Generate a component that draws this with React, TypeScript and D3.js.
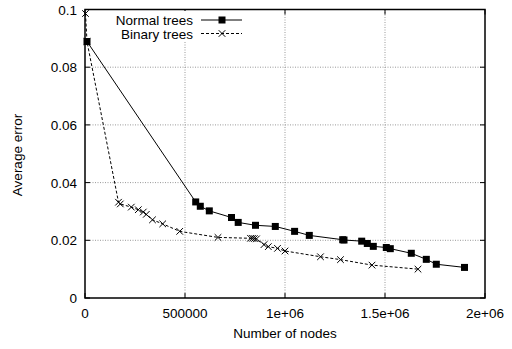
import React from "react";
import * as d3 from "d3";

const normalX = [10000, 553500, 576500, 621500, 732500, 766000, 852500, 951500, 1048000, 1121500, 1288500, 1295000, 1383500, 1411500, 1441500, 1506500, 1526500, 1631500, 1706500, 1756500, 1897500];
const normalY = [0.0889, 0.0333, 0.0318, 0.0302, 0.0279, 0.0262, 0.0252, 0.0248, 0.0231, 0.0217, 0.0202, 0.0201, 0.0197, 0.0189, 0.0179, 0.0175, 0.0171, 0.0155, 0.0134, 0.0117, 0.0106];

const binaryX = [2500, 10000, 167500, 176500, 231500, 266500, 291500, 306500, 337500, 388500, 473500, 665000, 827500, 837500, 846500, 857500, 895000, 916500, 962500, 1000000, 1177500, 1277500, 1435000, 1665000];
const binaryY = [0.0986, 0.0889, 0.0332, 0.0326, 0.0315, 0.0306, 0.0298, 0.029, 0.0271, 0.0257, 0.0231, 0.021, 0.0207, 0.0207, 0.0206, 0.0205, 0.0185, 0.0178, 0.0172, 0.0163, 0.0143, 0.0133, 0.0114, 0.01];

const xTicks = [0, 500000, 1000000, 1500000, 2000000];
const xTickLabels = ["0", "500000", "1e+06", "1.5e+06", "2e+06"];
const yTicks = [0, 0.02, 0.04, 0.06, 0.08, 0.1];
const yTickLabels = ["0", "0.02", "0.04", "0.06", "0.08", "0.1"];

const seriesNames = ["Normal trees", "Binary trees"];

const W = 512, H = 349;
const left = 85, right = 485, top = 9.5, bottom = 298;
const font = "'Liberation Sans', Arial, sans-serif";
const fs = 13.5;

export default function App() {
  const x = d3.scaleLinear().domain([0, 2000000]).range([left, right]);
  const y = d3.scaleLinear().domain([0, 0.1]).range([bottom, top]);
  const line = d3.line<[number, number]>().x(d => x(d[0])).y(d => y(d[1]));
  const normal: [number, number][] = normalX.map((v, i) => [v, normalY[i]]);
  const binary: [number, number][] = binaryX.map((v, i) => [v, binaryY[i]]);
  const sq = 7, xs = 3.3;
  const tick = 5;
  const cross = (cx: number, cy: number, k: string) => (
    <path key={k} d={`M${cx - xs},${cy - xs}L${cx + xs},${cy + xs}M${cx - xs},${cy + xs}L${cx + xs},${cy - xs}`} stroke="#000" strokeWidth={1} fill="none" />
  );
  return (
    <svg width={W} height={H} style={{ position: "absolute", left: 0, top: 0 }} fontFamily={font}>
      <rect width={W} height={H} fill="#fff" />
      {/* grid */}
      {xTicks.slice(1, -1).map((t, i) => (
        <line key={"gx" + i} x1={x(t)} x2={x(t)} y1={top} y2={bottom} stroke="#999" strokeWidth={1} strokeDasharray="1,1.5" />
      ))}
      {yTicks.slice(1, -1).map((t, i) => (
        <line key={"gy" + i} x1={left} x2={right} y1={y(t)} y2={y(t)} stroke="#999" strokeWidth={1} strokeDasharray="1,1.5" />
      ))}
      {/* ticks */}
      {xTicks.map((t, i) => (
        <g key={"tx" + i}>
          <line x1={x(t)} x2={x(t)} y1={bottom} y2={bottom - tick} stroke="#000" />
          <line x1={x(t)} x2={x(t)} y1={top} y2={top + tick} stroke="#000" />
          <text x={x(t)} y={318} textAnchor="middle" fontSize={fs}>{xTickLabels[i]}</text>
        </g>
      ))}
      {yTicks.map((t, i) => (
        <g key={"ty" + i}>
          <line x1={left} x2={left + tick} y1={y(t)} y2={y(t)} stroke="#000" />
          <line x1={right} x2={right - tick} y1={y(t)} y2={y(t)} stroke="#000" />
          <text x={77} y={y(t) + 5} textAnchor="end" fontSize={fs}>{yTickLabels[i]}</text>
        </g>
      ))}
      {/* frame */}
      <rect x={left} y={top} width={right - left} height={bottom - top} fill="none" stroke="#000" strokeWidth={1.5} />
      {/* series */}
      <path d={line(binary) || ""} fill="none" stroke="#000" strokeWidth={1} strokeDasharray="3,2" />
      {binary.map((d, i) => cross(x(d[0]), y(d[1]), "b" + i))}
      <path d={line(normal) || ""} fill="none" stroke="#000" strokeWidth={1} />
      {normal.map((d, i) => (
        <rect key={"n" + i} x={x(d[0]) - sq / 2} y={y(d[1]) - sq / 2} width={sq} height={sq} fill="#000" />
      ))}
      {/* legend */}
      <rect x={112} y={11} width={136} height={30} fill="#fff" />
      <text x={193} y={25} textAnchor="end" fontSize={fs}>{seriesNames[0]}</text>
      <line x1={201} x2={242} y1={20} y2={20} stroke="#000" />
      <rect x={222 - sq / 2} y={20 - sq / 2} width={sq} height={sq} fill="#000" />
      <text x={193} y={38.5} textAnchor="end" fontSize={fs}>{seriesNames[1]}</text>
      <line x1={201} x2={242} y1={33.5} y2={33.5} stroke="#000" strokeDasharray="3,2" />
      {cross(222, 33.5, "lb")}
      {/* axis labels */}
      <text x={285} y={338} textAnchor="middle" fontSize={fs}>Number of nodes</text>
      <text transform="translate(22,155) rotate(-90)" textAnchor="middle" fontSize={fs}>Average error</text>
    </svg>
  );
}
